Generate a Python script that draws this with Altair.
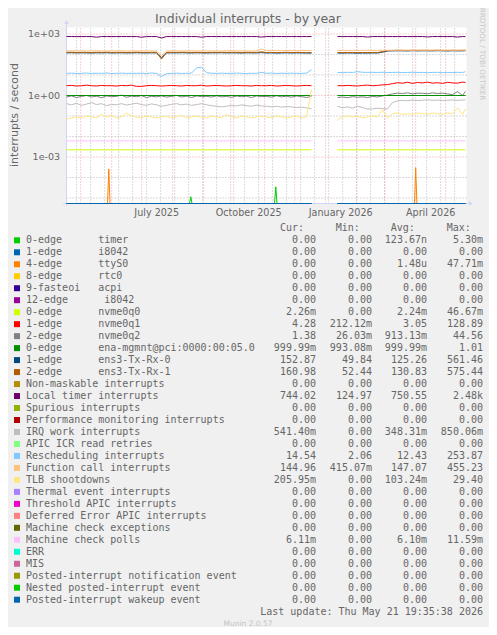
import altair as alt
import pandas as pd

TITLE = "Individual interrupts - by year"
Y_TITLE = "interrupts / second"
LAST_UPDATE = "Last update: Thu May 21 19:35:38 2026"
FOOTER = "Munin 2.0.57"
WATERMARK = "RRDTOOL / TOBI OETIKER"
HEADERS = ["Cur:", "Min:", "Avg:", "Max:"]

START = "2025-04-16T19:35:38"
END = "2026-05-21T19:35:38"
Y_MIN = 5.39e-6
Y_MAX = 2075.0

LABELS = [
    "0-edge      timer", "1-edge      i8042", "4-edge      ttyS0", "8-edge      rtc0",
    "9-fasteoi   acpi", "12-edge      i8042", "0-edge      nvme0q0", "1-edge      nvme0q1",
    "2-edge      nvme0q2", "0-edge      ena-mgmnt@pci:0000:00:05.0", "1-edge      ens3-Tx-Rx-0",
    "2-edge      ens3-Tx-Rx-1", "Non-maskable interrupts", "Local timer interrupts",
    "Spurious interrupts", "Performance monitoring interrupts", "IRQ work interrupts",
    "APIC ICR read retries", "Rescheduling interrupts", "Function call interrupts",
    "TLB shootdowns", "Thermal event interrupts", "Threshold APIC interrupts",
    "Deferred Error APIC interrupts", "Machine check exceptions", "Machine check polls",
    "ERR", "MIS", "Posted-interrupt notification event", "Nested posted-interrupt event",
    "Posted-interrupt wakeup event",
]
COLORS = [
    "#00cc00", "#0066b3", "#ff8000", "#ffcc00", "#330099", "#990099", "#ccff00", "#ff0000",
    "#808080", "#008f00", "#00487d", "#b35a00", "#b38f00", "#6b006b", "#8fb300", "#b30000",
    "#bebebe", "#80ff80", "#80c9ff", "#ffc080", "#ffe680", "#aa80ff", "#ee00cc", "#ff8080",
    "#666600", "#ffbfff", "#00ffcc", "#cc6699", "#999900", "#00cc00", "#0066b3",
]
CUR = ["0.00", "0.00", "0.00", "0.00", "0.00", "0.00", "2.26m", "4.28", "1.38", "999.99m",
       "152.87", "160.98", "0.00", "744.02", "0.00", "0.00", "541.40m", "0.00", "14.54",
       "144.96", "205.95m", "0.00", "0.00", "0.00", "0.00", "6.11m", "0.00", "0.00", "0.00",
       "0.00", "0.00"]
MINS = ["0.00", "0.00", "0.00", "0.00", "0.00", "0.00", "0.00", "212.12m", "26.03m", "993.08m",
        "49.84", "52.44", "0.00", "124.97", "0.00", "0.00", "0.00", "0.00", "2.06",
        "415.07m", "0.00", "0.00", "0.00", "0.00", "0.00", "0.00", "0.00", "0.00", "0.00",
        "0.00", "0.00"]
AVGS = ["123.67n", "0.00", "1.48u", "0.00", "0.00", "0.00", "2.24m", "3.05", "913.13m",
        "999.99m", "125.26", "130.83", "0.00", "750.55", "0.00", "0.00", "348.31m", "0.00",
        "12.43", "147.07", "103.24m", "0.00", "0.00", "0.00", "0.00", "6.10m", "0.00", "0.00",
        "0.00", "0.00", "0.00"]
MAXS = ["5.30m", "0.00", "47.71m", "0.00", "0.00", "0.00", "46.67m", "128.89", "44.56", "1.01",
        "561.46", "575.44", "0.00", "2.48k", "0.00", "0.00", "850.06m", "0.00", "253.87",
        "455.23", "29.40", "0.00", "0.00", "0.00", "0.00", "11.59m", "0.00", "0.00", "0.00",
        "0.00", "0.00"]

# sample days (offset from START); data gap between day 245 and day 271
PRE_DAYS = list(range(0, 246, 5))
POST_DAYS = list(range(271, 397, 5)) + [399]
EDGE_PRE = [0, 245]
EDGE_POST = [271, 399]
ZERO = [0.0, 0.0]

LOCAL_TIMER_PRE = [750, 752, 748, 750, 751, 749, 700, 750, 752, 750, 749, 751, 750, 748, 750, 700, 750, 751, 749, 640,
                   750, 752, 750, 749, 750, 751, 748, 700, 750, 752, 750, 749, 750, 751, 750, 748, 750, 749, 751, 710,
                   750, 749, 750, 752, 749, 750, 751, 750, 749, 750]
LOCAL_TIMER_POST = [750, 748, 751, 750, 749, 752, 710, 750, 749, 751, 750, 748, 750, 751, 749, 750, 752, 750, 720, 749,
                    750, 751, 748, 750, 710, 750, 744]
FUNC_PRE = [148, 152, 150, 151, 149, 150, 153, 150, 149, 151, 150, 152, 148, 150, 151, 150, 149, 152, 150, 85,
            148, 150, 151, 149, 150, 152, 150, 148, 151, 150, 149, 150, 152, 150, 151, 149, 150, 148, 152, 185,
            156, 158, 155, 157, 156, 158, 154, 156, 157, 158]
FUNC_POST = [156, 158, 157, 159, 158, 160, 161, 159, 160, 162, 161, 160, 163, 161, 162, 160, 163, 162, 161, 163,
             162, 160, 163, 161, 162, 163, 161]
RX0_PRE = [120, 122, 119, 121, 120, 118, 121, 120, 122, 119, 120, 121, 119, 120, 122, 120, 119, 121, 120, 70,
           119, 121, 120, 122, 120, 119, 121, 120, 118, 121, 120, 122, 119, 121, 120, 118, 121, 120, 119, 124,
           118, 120, 117, 119, 121, 118, 120, 119, 118, 117]
RX0_POST = [118, 117, 119, 118, 116, 118, 117, 119, 118, 130, 148, 150, 152, 151, 149, 153, 150, 152, 151, 150,
            153, 151, 149, 152, 150, 151, 153]
RX1_PRE = [127, 129, 126, 128, 127, 125, 128, 127, 129, 126, 127, 128, 126, 127, 129, 127, 126, 128, 127, 60,
           126, 128, 127, 129, 127, 126, 128, 127, 125, 128, 127, 129, 126, 128, 127, 125, 128, 127, 126, 135,
           125, 127, 124, 126, 128, 125, 127, 126, 125, 124]
RX1_POST = [125, 124, 126, 125, 123, 125, 124, 126, 125, 138, 156, 158, 160, 159, 157, 161, 158, 160, 159, 158,
            161, 159, 157, 160, 158, 159, 161]
RESCHED_PRE = [12.0, 12.3, 11.8, 12.1, 12.5, 11.9, 12.2, 12.0, 12.6, 11.8, 12.1, 12.4, 11.9, 12.2, 12.0, 12.3, 11.8,
               12.5, 12.0, 8.5, 11.5, 12.0, 12.3, 11.9, 12.1, 12.4, 22.0, 24.0, 13.0, 12.2, 12.0, 12.3, 11.9, 12.1,
               12.4, 12.0, 11.8, 12.2, 12.0, 13.5, 12.1, 12.4, 11.9, 12.2, 12.0, 12.3, 12.1, 11.9, 12.4, 18.0]
RESCHED_POST = [13.0, 13.2, 13.5, 13.3, 14.5, 13.6, 13.4, 13.5, 13.3, 13.6, 13.2, 13.4, 13.5, 13.1, 13.3, 13.6, 13.2,
                13.4, 13.0, 13.3, 13.5, 13.1, 13.4, 13.2, 13.5, 13.3, 14.5]
NVME1_PRE = [3.0, 3.1, 2.9, 3.0, 3.2, 3.0, 2.9, 3.1, 3.0, 3.0, 2.9, 3.1, 3.0, 3.2, 2.8, 2.8, 3.0, 3.1, 3.0, 2.9,
             3.0, 3.1, 3.0, 2.9, 3.1, 3.0, 3.0, 3.2, 2.9, 3.0, 3.1, 3.0, 2.9, 3.0, 3.1, 3.0, 3.0, 2.9, 3.1, 3.0,
             3.0, 3.1, 2.9, 3.0, 3.1, 3.0, 2.9, 3.0, 3.1, 3.0]
NVME1_POST = [3.0, 3.0, 3.1, 3.0, 2.9, 3.1, 3.2, 3.0, 3.1, 3.3, 3.4, 3.8, 4.2, 4.0, 4.4, 3.9, 4.3, 4.1, 4.5, 4.0,
              4.2, 3.9, 4.4, 4.1, 4.0, 4.5, 4.3]
NVME2_PRE = [0.85, 0.95, 0.80, 0.90, 1.00, 0.85, 0.92, 0.78, 0.95, 0.88, 0.90, 1.05, 0.82, 0.93, 0.87, 0.98, 0.80,
             0.92, 0.86, 0.95, 0.84, 0.90, 1.00, 0.85, 0.93, 0.80, 0.95, 0.88, 0.91, 0.84, 0.96, 0.86, 0.90, 0.82,
             0.94, 0.87, 0.92, 0.80, 0.95, 0.88, 0.90, 0.84, 0.97, 0.86, 0.92, 0.83, 0.95, 0.88, 0.80, 0.90]
NVME2_POST = [0.80, 0.85, 0.78, 0.88, 0.82, 0.86, 0.80, 0.90, 0.85, 0.95, 1.05, 1.20, 1.30, 1.25, 1.35, 1.20, 1.30,
              1.28, 1.22, 1.35, 1.25, 1.30, 1.20, 1.10, 1.55, 1.00, 1.60]
IRQ_PRE = [0.40, 0.35, 0.42, 0.33, 0.38, 0.45, 0.36, 0.40, 0.32, 0.37, 0.35, 0.40, 0.34, 0.38, 0.42, 0.36, 0.33,
           0.39, 0.35, 0.30, 0.33, 0.37, 0.40, 0.35, 0.38, 0.33, 0.36, 0.40, 0.35, 0.32, 0.30, 0.28, 0.30, 0.33,
           0.31, 0.35, 0.32, 0.30, 0.34, 0.31, 0.30, 0.28, 0.30, 0.27, 0.29, 0.28, 0.26, 0.27, 0.25, 0.22]
IRQ_POST = [0.30, 0.25, 0.28, 0.24, 0.30, 0.26, 0.22, 0.22, 0.24, 0.23, 0.22, 0.45, 0.55, 0.58, 0.56, 0.60, 0.57,
            0.59, 0.62, 0.58, 0.60, 0.57, 0.59, 0.61, 0.58, 0.60, 0.62]
TLB_PRE = [0.07, 0.08, 0.09, 0.08, 0.10, 0.09, 0.08, 0.12, 0.09, 0.11, 0.08, 0.09, 0.14, 0.10, 0.09, 0.08, 0.10,
           0.09, 0.08, 0.09, 0.10, 0.08, 0.09, 0.11, 0.08, 0.09, 0.10, 0.09, 0.08, 0.10, 0.09, 0.08, 0.12, 0.09,
           0.08, 0.10, 0.09, 0.08, 0.09, 0.10, 0.09, 0.08, 0.10, 0.09, 0.08, 0.09, 0.10, 0.08, 0.09, 1.9]
TLB_POST = [0.06, 0.09, 0.10, 0.09, 0.10, 0.08, 0.09, 0.10, 0.09, 0.20, 0.08, 0.13, 0.14, 0.12, 0.13, 0.12, 0.14,
            0.13, 0.12, 0.14, 0.13, 0.12, 0.14, 0.13, 0.25, 0.12, 0.22]
ENA = [1.0, 1.0]
NVME0 = [2.24e-3, 2.24e-3]
MC_POLLS = [6.1e-3, 6.1e-3]
TIMER_PRE_DAYS = [0, 123, 124.3, 125.5, 208, 209.3, 210.5, 245]
TIMER_PRE = [0, 0, 1.15e-5, 0, 0, 3.5e-5, 0, 0]
TTYS0_PRE_DAYS = [0, 41, 42.3, 43.5, 245]
TTYS0_PRE = [0, 0, 2.6e-4, 0, 0]
TTYS0_POST_DAYS = [271, 348, 349.2, 350.4, 399]
TTYS0_POST = [0, 0, 3.0e-4, 0, 0]

SERIES = {
    0: (TIMER_PRE_DAYS, TIMER_PRE, EDGE_POST, ZERO),
    2: (TTYS0_PRE_DAYS, TTYS0_PRE, TTYS0_POST_DAYS, TTYS0_POST),
    6: (EDGE_PRE, NVME0, EDGE_POST, NVME0),
    7: (PRE_DAYS, NVME1_PRE, POST_DAYS, NVME1_POST),
    8: (PRE_DAYS, NVME2_PRE, POST_DAYS, NVME2_POST),
    9: (EDGE_PRE, ENA, EDGE_POST, ENA),
    10: (PRE_DAYS, RX0_PRE, POST_DAYS, RX0_POST),
    11: (PRE_DAYS, RX1_PRE, POST_DAYS, RX1_POST),
    13: (PRE_DAYS, LOCAL_TIMER_PRE, POST_DAYS, LOCAL_TIMER_POST),
    16: (PRE_DAYS, IRQ_PRE, POST_DAYS, IRQ_POST),
    18: (PRE_DAYS, RESCHED_PRE, POST_DAYS, RESCHED_POST),
    19: (PRE_DAYS, FUNC_PRE, POST_DAYS, FUNC_POST),
    20: (PRE_DAYS, TLB_PRE, POST_DAYS, TLB_POST),
    25: (EDGE_PRE, MC_POLLS, EDGE_POST, MC_POLLS),
}

MONTH_STARTS = ["2025-05-01", "2025-06-01", "2025-07-01", "2025-08-01", "2025-09-01", "2025-10-01",
                "2025-11-01", "2025-12-01", "2026-01-01", "2026-02-01", "2026-03-01", "2026-04-01",
                "2026-05-01"]
X_TICK_DATES = ["2025-07-16", "2025-10-16", "2026-01-16", "2026-04-16"]
X_TICK_LABELS = ["July 2025", "October 2025", "January 2026", "April 2026"]
MINOR_DECADES = [1e-5, 1e-4, 1e-2, 1e-1, 1e1, 1e2]
MAJOR_DECADES = [1e-3, 1.0, 1e3]
Y_TICK_LABELS = ["1e-03", "1e+00", "1e+03"]

# ---------------------------------------------------------------- tables
t_start = pd.Timestamp(START)
FMT = "%Y-%m-%dT%H:%M:%S"


def ts(d):
    return (t_start + pd.Timedelta(days=d)).strftime(FMT)


rows = []
for i, lab in enumerate(LABELS):
    pre_d, pre_v, post_d, post_v = SERIES.get(i, (EDGE_PRE, ZERO, EDGE_POST, ZERO))
    for seg, (ds, vs) in enumerate([(pre_d, pre_v), (post_d, post_v)]):
        for d, v in zip(ds, vs):
            rows.append({"series": lab, "ord": i, "seg": seg, "t": ts(d), "v": float(v)})
lines_df = pd.DataFrame(rows)

minor_days = [d.strftime(FMT) for d in pd.date_range("2025-04-27", "2026-05-21", freq="14D")]
vminor_df = pd.DataFrame({"t": minor_days, "lo": Y_MIN, "hi": Y_MAX})
vmajor_df = pd.DataFrame({"t": [m + "T00:00:00" for m in MONTH_STARTS], "lo": Y_MIN, "hi": Y_MAX})
hminor_df = pd.DataFrame({"y": MINOR_DECADES, "t0": START, "t1": END})
hmajor_df = pd.DataFrame({"y": MAJOR_DECADES, "t0": START, "t1": END})
bg_df = pd.DataFrame({"t0": [START], "t1": [END], "lo": [Y_MIN], "hi": [Y_MAX]})
xt_df = pd.DataFrame({"t": [d + "T00:00:00" for d in X_TICK_DATES], "s": X_TICK_LABELS})
yt_df = pd.DataFrame({"y": MAJOR_DECADES, "s": Y_TICK_LABELS})

NB = "\u00a0"


def disp(s):
    return s if s[-1].isalpha() else s + NB


legend_df = pd.DataFrame({
    "row": list(range(len(LABELS))),
    "series": LABELS,
    "lab": [s.replace(" ", NB) for s in LABELS],
    "cur": [disp(s) for s in CUR],
    "mn": [disp(s) for s in MINS],
    "avg": [disp(s) for s in AVGS],
    "mx": [disp(s) for s in MAXS],
})

# ---------------------------------------------------------------- scales
dt_start = alt.DateTime(year=2025, month=4, date=16, hours=19, minutes=35, seconds=38)
dt_end = alt.DateTime(year=2026, month=5, date=21, hours=19, minutes=35, seconds=38)
XS = alt.Scale(domain=[dt_start, dt_end], range=[58.5, 458.5], nice=False)
YS = alt.Scale(type="log", domain=[Y_MIN, Y_MAX], range=[195.5, 19.5], clamp=True, nice=False)
RS = alt.Scale(domain=[0, 30], range=[235.3, 594.7], nice=False, zero=False)
CS = alt.Scale(domain=LABELS, range=COLORS)

FONT = "DejaVu Sans"
MONO = "DejaVu Sans Mono"
TXT = "#666666"
AXIS_COL = "#cfd6f8"
GRID_COL = "#b4b4b4"
MGRID_COL = "#eca0a0"


def X(f):
    return alt.X(f, type="temporal", scale=XS, axis=None)


def Y(f):
    return alt.Y(f, type="quantitative", scale=YS, axis=None)


bg = alt.Chart(bg_df).mark_rect(color="white").encode(x=X("t0"), x2="t1:T", y=Y("lo"), y2="hi:Q")

vminor = alt.Chart(vminor_df).mark_rule(color=GRID_COL, strokeDash=[1, 2], strokeWidth=1).encode(
    x=X("t"), y=Y("lo"), y2="hi:Q")
vmajor = alt.Chart(vmajor_df).mark_rule(color=MGRID_COL, strokeDash=[1, 2], strokeWidth=1).encode(
    x=X("t"), y=Y("lo"), y2="hi:Q")
hminor = alt.Chart(hminor_df).mark_rule(color=GRID_COL, strokeDash=[1, 2], strokeWidth=1).encode(
    y=Y("y"), x=X("t0"), x2="t1:T")
hmajor = alt.Chart(hmajor_df).mark_rule(color=MGRID_COL, strokeDash=[1, 2], strokeWidth=1).encode(
    y=Y("y"), x=X("t0"), x2="t1:T")

axis_y = alt.Chart(bg_df).mark_rule(color=AXIS_COL, strokeWidth=1).encode(
    x=alt.value(58.5), y=alt.value(198), y2=alt.value(15))
axis_x = alt.Chart(bg_df).mark_rule(color=AXIS_COL, strokeWidth=1).encode(
    x=alt.value(55), x2=alt.value(462), y=alt.value(195.5))
arrow_up = alt.Chart(bg_df).mark_point(shape="triangle-up", filled=True, color=AXIS_COL, size=22, opacity=1).encode(
    x=alt.value(58.5), y=alt.value(14))
arrow_right = alt.Chart(bg_df).mark_point(shape="triangle-right", filled=True, color=AXIS_COL, size=22,
                                          opacity=1).encode(x=alt.value(463), y=alt.value(195.5))

# one line layer per series, in legend order, so later series are drawn on top (as rrdtool does)
line_layers = [
    alt.Chart(lines_df).transform_filter(f"datum.ord == {i}").transform_calculate(
        vp="max(datum.v, 1e-7)").mark_line(strokeWidth=1, interpolate="linear").encode(
        x=X("t"), y=Y("vp"),
        color=alt.Color("series:N", scale=CS, legend=None),
        detail="seg:N",
        order=alt.Order("t:T"),
    )
    for i in range(len(LABELS))
]

xlabels = alt.Chart(xt_df).mark_text(font=FONT, fontSize=9.6, color=TXT, baseline="alphabetic",
                                      align="center").encode(x=X("t"), y=alt.value(208), text="s:N")
ylabels = alt.Chart(yt_df).mark_text(font=FONT, fontSize=9.5, color=TXT, baseline="alphabetic",
                                      align="right", dy=3.4).encode(y=Y("y"), x=alt.value(52), text="s:N")

one = pd.DataFrame({"s": [0]})


def label(text, x, y, size, font=FONT, color=TXT, align="center", angle=0, baseline="alphabetic"):
    kw = dict(font=font, fontSize=size, color=color, align=align, baseline=baseline, text=text)
    if angle:
        kw["angle"] = angle
    return alt.Chart(one).mark_text(**kw).encode(x=alt.value(x), y=alt.value(y))


title = label(TITLE, 240, 14.5, 12.5)
ytitle = label(Y_TITLE, 6.5, 107, 11, angle=270, baseline="middle")
watermark = label(WATERMARK, 474, 46, 7.2, color="#c8c8c8", angle=90, baseline="middle")
footer = label(FOOTER, 240, 618, 7.5, color="#c4c4c4")
last_update = label(LAST_UPDATE, 475, 606.7, 10, font=MONO, align="right")
header_x = [272, 327.7, 382.7, 438.7]
headers = [label(h, hx, 222.5, 10, font=MONO, align="left") for h, hx in zip(HEADERS, header_x)]

squares = alt.Chart(legend_df).mark_square(size=36, opacity=1, yOffset=-3).encode(
    x=alt.value(9), y=alt.Y("row:Q", scale=RS, axis=None),
    color=alt.Color("series:N", scale=CS, legend=None))


def col(field, x, align):
    return alt.Chart(legend_df).mark_text(font=MONO, fontSize=10, color=TXT, align=align,
                                          baseline="alphabetic").encode(
        x=alt.value(x), y=alt.Y("row:Q", scale=RS, axis=None), text=f"{field}:N")


legend_layers = [squares, col("lab", 18, "left"), col("cur", 308, "right"), col("mn", 364, "right"),
                 col("avg", 419, "right"), col("mx", 475, "right")]

chart = alt.layer(
    bg, vminor, hminor, vmajor, hmajor, axis_x, axis_y, arrow_up, arrow_right, *line_layers,
    xlabels, ylabels, title, ytitle, watermark, footer, last_update, *headers, *legend_layers,
).resolve_scale(y="independent").properties(
    width=481, height=619, autosize=alt.AutoSizeParams(type="none"), padding=0, background="#f0f0f0",
).configure_view(stroke=None, fill=None)

chart.save("out.html", embed_options={"renderer": "svg", "actions": False})
